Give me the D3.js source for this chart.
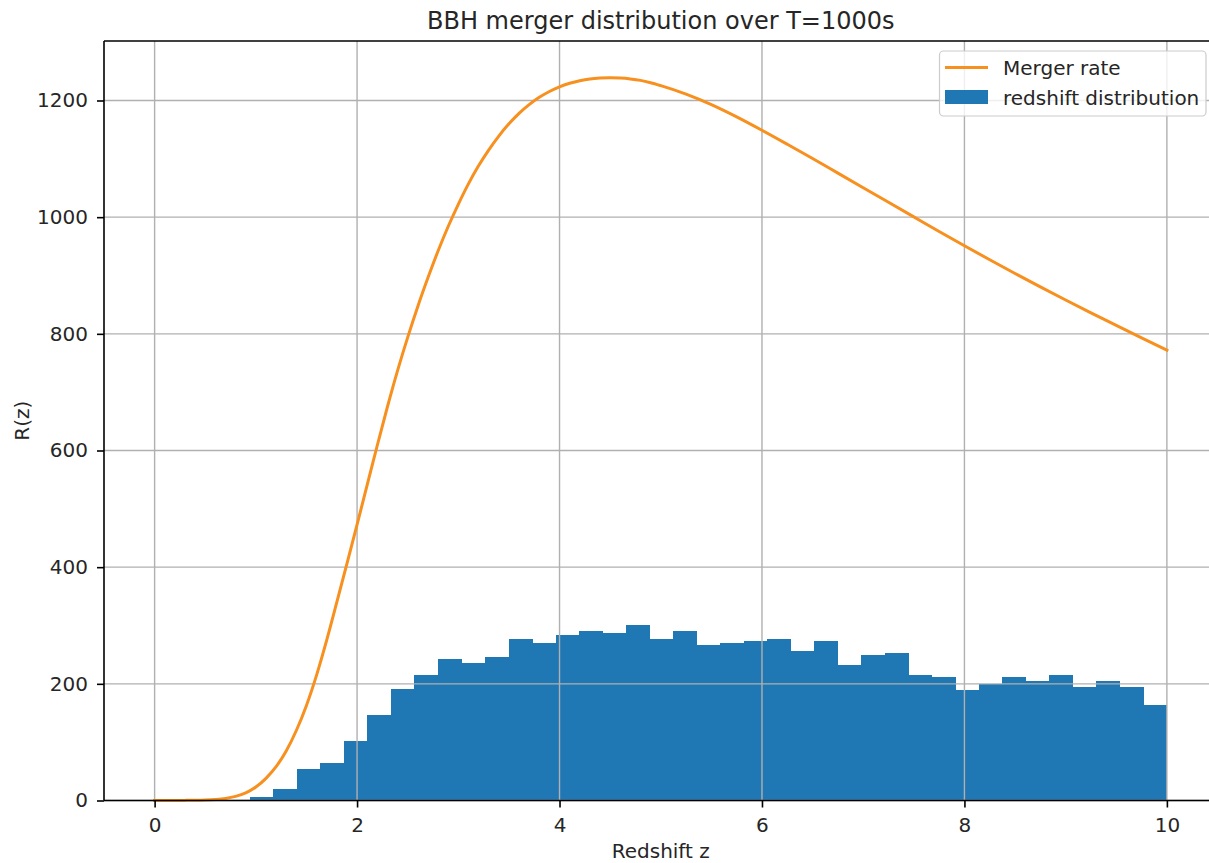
<!DOCTYPE html>
<html>
<head>
<meta charset="utf-8">
<script src="https://cdn.jsdelivr.net/npm/d3@7"></script>
<style>
  html, body { margin: 0; padding: 0; background: #ffffff; }
  svg { display: block; }
  text { font-family: "DejaVu Sans", sans-serif; fill: #262626; }
</style>
</head>
<body>
<svg id="chart" width="1209" height="863"></svg>
<script>
// Histogram of sampled merger redshifts: 40 equal bins between the smallest sample and z = 10
const binLow = 0.709;
const binHigh = 10;
const binCounts = [
  1, 6, 20, 54, 65, 102, 147, 191, 215, 242,
  236, 246, 277, 270, 283, 290, 287, 301, 277, 290,
  267, 270, 273, 277, 257, 273, 233, 249, 253, 215,
  211, 189, 199, 211, 205, 215, 195, 205, 195, 164
];

// Merger rate R(z) sampled along redshift
const rateZ = [
  0, 0.1, 0.2, 0.3, 0.4, 0.5, 0.6, 0.7, 0.8, 0.9,
  1.0, 1.1, 1.2, 1.3, 1.4, 1.5, 1.6, 1.7, 1.8, 1.9,
  2.0, 2.1, 2.2, 2.3, 2.4, 2.5, 2.6, 2.7, 2.8, 2.9,
  3.0, 3.1, 3.2, 3.3, 3.4, 3.5, 3.6, 3.7, 3.8, 3.9,
  4.0, 4.1, 4.2, 4.3, 4.4, 4.5, 4.6, 4.7, 4.8, 4.9,
  5.0, 5.25, 5.5, 5.75, 6.0, 6.25, 6.5, 6.75, 7.0, 7.25,
  7.5, 7.75, 8.0, 8.25, 8.5, 8.75, 9.0, 9.25, 9.5, 9.75,
  10.0
];
const rateR = [
  0, 0, 0.05, 0.2, 0.4, 0.9, 1.8, 3.5, 7, 13,
  23, 38, 58, 85, 120, 163, 215, 275, 340, 406,
  473, 541, 609, 675, 737, 794, 847, 896, 942, 984,
  1022, 1057, 1088, 1115, 1139, 1160, 1178, 1193, 1205.5, 1215.5,
  1223.5, 1229.5, 1234, 1237, 1238.5, 1239, 1238.5, 1237, 1234.5, 1230.5,
  1225.5, 1211, 1193, 1172, 1149, 1125, 1100.5, 1075.5, 1050.5, 1025.5,
  1000.5, 975.5, 951, 927, 903.5, 880.5, 858, 836, 814.5, 793,
  772
];

const xTicks = [0, 2, 4, 6, 8, 10];
const yTicks = [0, 200, 400, 600, 800, 1000, 1200];

const titleText = "BBH merger distribution over T=1000s";
const xLabel = "Redshift z";
const yLabel = "R(z)";
const legendLabels = ["Merger rate", "redshift distribution"];

const lineColor = "#f7901e";
const barColor = "#1f77b4";
const gridColor = "#b0b0b0";

const svg = d3.select("#chart");
svg.append("rect").attr("width", 1209).attr("height", 863).attr("fill", "#ffffff");

const plot = { left: 104, right: 1217.5, top: 41, bottom: 800.5 };

const x = d3.scaleLinear().domain([-0.5, 10.5]).range([plot.left, plot.right]);
const y = d3.scaleLinear().domain([0, 1302]).range([plot.bottom, plot.top]);

// bins
const binWidth = (binHigh - binLow) / binCounts.length;
const bins = binCounts.map((c, i) => ({ x0: binLow + i * binWidth, x1: binLow + (i + 1) * binWidth, count: c }));

svg.append("g")
  .attr("shape-rendering", "crispEdges")
  .selectAll("rect")
  .data(bins)
  .join("rect")
  .attr("x", d => x(d.x0))
  .attr("width", d => x(d.x1) - x(d.x0) + 0.5)
  .attr("y", d => y(d.count))
  .attr("height", d => y(0) - y(d.count))
  .attr("fill", barColor);

// grid (drawn over the bars, under the line)
const grid = svg.append("g").attr("stroke", gridColor).attr("stroke-width", 1.4);
grid.selectAll("line.v").data(xTicks).join("line")
  .attr("class", "v")
  .attr("x1", d => x(d)).attr("x2", d => x(d))
  .attr("y1", plot.top).attr("y2", plot.bottom);
grid.selectAll("line.h").data(yTicks).join("line")
  .attr("class", "h")
  .attr("y1", d => y(d)).attr("y2", d => y(d))
  .attr("x1", plot.left).attr("x2", plot.right);

// merger rate curve
const points = rateZ.map((z, i) => [z, rateR[i]]);
const line = d3.line().x(d => x(d[0])).y(d => y(d[1])).curve(d3.curveMonotoneX);
svg.append("path")
  .datum(points)
  .attr("d", line)
  .attr("fill", "none")
  .attr("stroke", lineColor)
  .attr("stroke-width", 3)
  .attr("stroke-linejoin", "round")
  .attr("stroke-linecap", "square");

// spines
const spines = svg.append("g").attr("stroke", "#000").attr("stroke-width", 1.6).attr("fill", "none");
spines.append("line").attr("x1", plot.left).attr("x2", plot.left).attr("y1", plot.top).attr("y2", plot.bottom);
spines.append("line").attr("x1", plot.left).attr("x2", plot.right + 10).attr("y1", plot.top).attr("y2", plot.top);
spines.append("line").attr("x1", plot.left).attr("x2", plot.right + 10).attr("y1", plot.bottom).attr("y2", plot.bottom);

// axes
const xAxis = svg.append("g")
  .attr("transform", `translate(0,${plot.bottom})`)
  .call(d3.axisBottom(x).tickValues(xTicks).tickSize(7).tickPadding(10).tickFormat(d3.format("d")));
const yAxis = svg.append("g")
  .attr("transform", `translate(${plot.left},0)`)
  .call(d3.axisLeft(y).tickValues(yTicks).tickSize(7).tickPadding(9).tickFormat(d3.format("d")));

[xAxis, yAxis].forEach(g => {
  g.select(".domain").remove();
  g.selectAll(".tick line").attr("stroke", "#000").attr("stroke-width", 1.6);
  g.selectAll(".tick text")
    .attr("fill", "#262626")
    .style("font-family", '"DejaVu Sans", sans-serif')
    .style("font-size", "20px");
});

// title and axis labels
svg.append("text")
  .attr("x", (plot.left + plot.right) / 2).attr("y", 29)
  .attr("text-anchor", "middle")
  .style("font-size", "24px")
  .text(titleText);

svg.append("text")
  .attr("x", (plot.left + plot.right) / 2).attr("y", 858)
  .attr("text-anchor", "middle")
  .style("font-size", "20px")
  .text(xLabel);

svg.append("text")
  .attr("transform", `translate(29,${(plot.top + plot.bottom) / 2}) rotate(-90)`)
  .attr("text-anchor", "middle")
  .style("font-size", "20px")
  .text(yLabel);

// legend
const legend = svg.append("g");
legend.append("rect")
  .attr("x", 939.5).attr("y", 51).attr("width", 266.5).attr("height", 65)
  .attr("rx", 4)
  .attr("fill", "#ffffff").attr("fill-opacity", 0.8)
  .attr("stroke", "#cccccc").attr("stroke-width", 1.2);
legend.append("line")
  .attr("x1", 945).attr("x2", 988).attr("y1", 67.5).attr("y2", 67.5)
  .attr("stroke", lineColor).attr("stroke-width", 3);
legend.append("rect")
  .attr("x", 945).attr("y", 90).attr("width", 43).attr("height", 14)
  .attr("fill", barColor);
legend.selectAll("text.lbl").data(legendLabels).join("text")
  .attr("class", "lbl")
  .attr("x", 1003)
  .attr("y", (d, i) => 75 + i * 30)
  .style("font-size", "20px")
  .text(d => d);
</script>
</body>
</html>
